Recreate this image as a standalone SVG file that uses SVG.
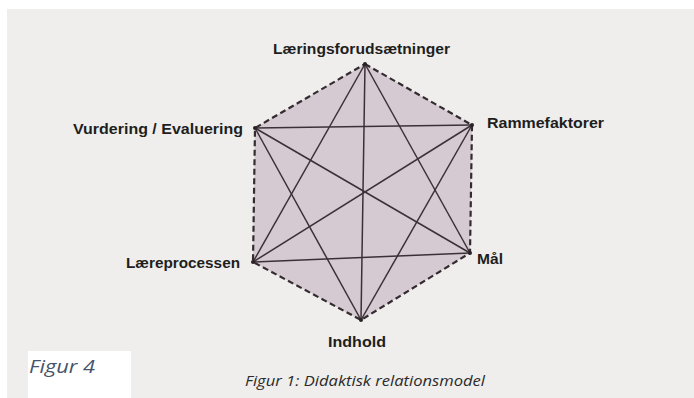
<svg xmlns="http://www.w3.org/2000/svg" width="694" height="398" viewBox="0 0 694 398">
<style>
.lbl{font-family:"Liberation Sans",Arial,sans-serif;font-weight:bold;font-size:15.5px;fill:#1e1e1e;}
.edge{stroke:#332b30;stroke-width:2.2;stroke-dasharray:6 3.5;fill:none;}
.diag{stroke:#3a3136;stroke-width:1.5;fill:none;}
.dot{fill:#2a2226;}
</style>
<rect x="0" y="0" width="694" height="398" fill="#ffffff"/>
<rect x="7" y="9" width="687" height="389" fill="#efeeec"/>
<polygon points="365,64 472,125 470,253 361,320 253,262 255,128" fill="#d6cad2"/>
<g id="connectors">
<polygon class="edge" points="365,64 472,125 470,253 361,320 253,262 255,128"/>
<line class="diag" x1="365" y1="64" x2="361" y2="320"/>
<line class="diag" x1="365" y1="64" x2="253" y2="262"/>
<line class="diag" x1="365" y1="64" x2="470" y2="253"/>
<line class="diag" x1="255" y1="128" x2="472" y2="125"/>
<line class="diag" x1="255" y1="128" x2="470" y2="253"/>
<line class="diag" x1="255" y1="128" x2="361" y2="320"/>
<line class="diag" x1="472" y1="125" x2="253" y2="262"/>
<line class="diag" x1="472" y1="125" x2="361" y2="320"/>
<line class="diag" x1="253" y1="262" x2="470" y2="253"/>
</g>
<g id="n-laeringsforudsaetninger"><circle class="dot" cx="365" cy="64" r="2"/><text class="lbl" x="273" y="54" textLength="177" lengthAdjust="spacingAndGlyphs">Læringsforudsætninger</text></g>
<g id="n-rammefaktorer"><circle class="dot" cx="472" cy="125" r="2"/><text class="lbl" x="487" y="128" textLength="117" lengthAdjust="spacingAndGlyphs">Rammefaktorer</text></g>
<g id="n-maal"><circle class="dot" cx="470" cy="253" r="2"/><text class="lbl" x="477" y="264" textLength="26" lengthAdjust="spacingAndGlyphs">Mål</text></g>
<g id="n-indhold"><circle class="dot" cx="361" cy="320" r="2"/><text class="lbl" x="328" y="347" textLength="58" lengthAdjust="spacingAndGlyphs">Indhold</text></g>
<g id="n-laereprocessen"><circle class="dot" cx="253" cy="262" r="2"/><text class="lbl" x="126" y="268" textLength="114" lengthAdjust="spacingAndGlyphs">Læreprocessen</text></g>
<g id="n-vurdering"><circle class="dot" cx="255" cy="128" r="2"/><text class="lbl" x="73" y="134" textLength="170" lengthAdjust="spacingAndGlyphs">Vurdering / Evaluering</text></g>
<text x="245" y="386" font-family="'Open Sans',sans-serif" font-style="italic" font-size="14" fill="#2a2a2a" textLength="240" lengthAdjust="spacingAndGlyphs">Figur 1: Didaktisk relationsmodel</text>
<rect x="28" y="351" width="103" height="47" fill="#ffffff"/>
<text x="29" y="373" font-family="'Open Sans',sans-serif" font-style="italic" font-size="19" fill="#44546a" textLength="66" lengthAdjust="spacingAndGlyphs">Figur 4</text>
</svg>
